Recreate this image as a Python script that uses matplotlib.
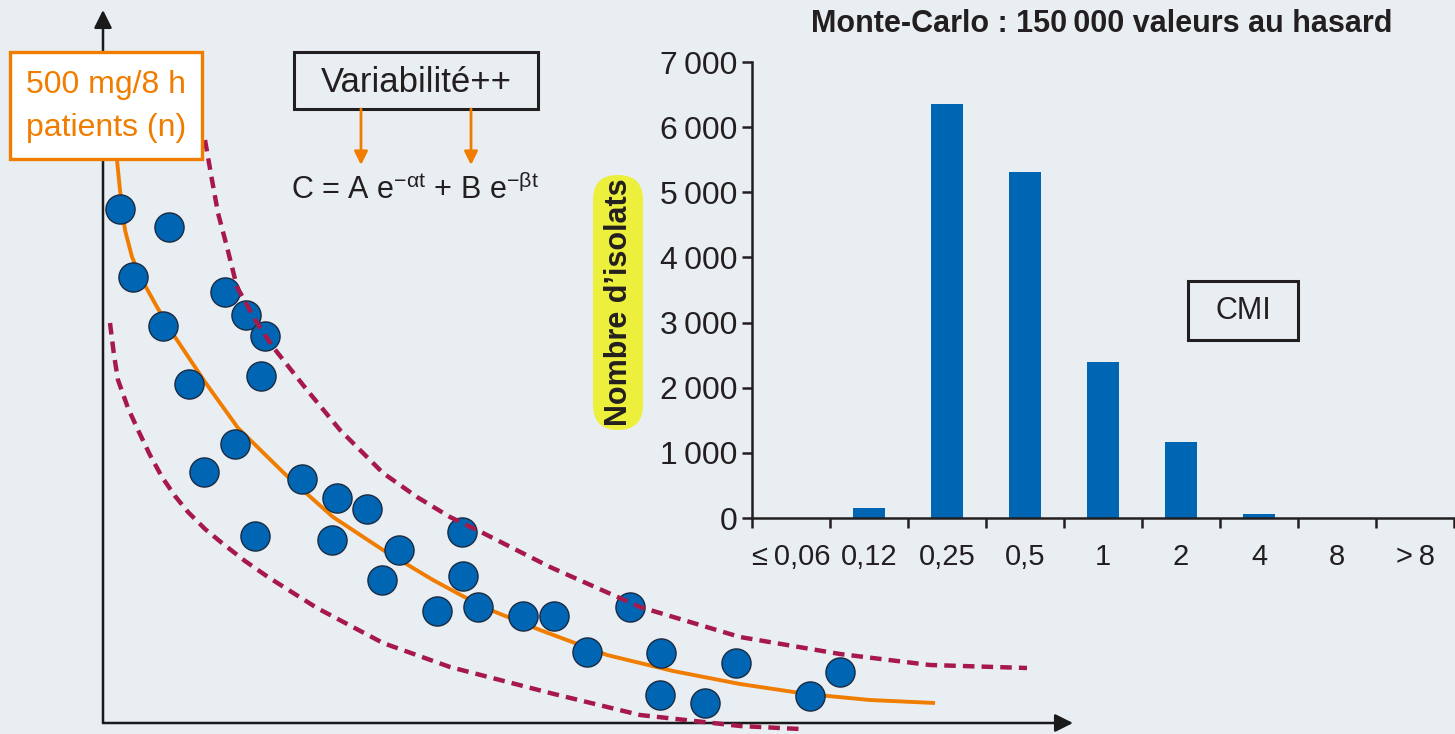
import matplotlib
matplotlib.use("Agg")
import matplotlib.pyplot as plt
from matplotlib.patches import Rectangle, FancyBboxPatch, FancyArrowPatch

# ---------------- data ----------------
# left panel: concentration vs time (arbitrary units)
patient_time = [17, 66, 30, 60, 122, 143, 162, 158, 86, 132, 101, 152, 199, 234, 264, 229,
                296, 279, 359, 360, 334, 375, 420, 451, 527, 484, 558, 633, 737, 557, 602, 707]
patient_conc = [514, 496, 446, 397, 431, 408, 387, 347, 339, 279, 251, 187, 244, 225, 214, 183,
                173, 143, 191, 147, 112, 116, 107, 107, 116, 71, 70, 60, 51, 28, 20, 27]

model_time = [14, 17, 22, 29, 39, 54, 72, 102, 135, 185, 230, 280, 330, 380, 437, 504,
              570, 637, 704, 767, 832]
model_conc = [563, 533, 493, 466, 443, 416, 386, 341, 295, 246, 206, 173, 143, 116, 93, 68,
              52, 39, 29, 23, 20]

upper_time = [102, 109, 115, 124, 134, 154, 170, 204, 237, 280, 314, 347, 380, 447, 537,
              637, 737, 827, 924]
upper_conc = [583, 543, 510, 476, 436, 400, 376, 333, 293, 250, 226, 206, 190, 156, 116,
              86, 69, 58, 55]

lower_time = [7, 11, 15, 25, 35, 47, 59, 72, 85, 102, 119, 142, 165, 214, 280, 347, 447,
              537, 637, 697]
lower_conc = [400, 368, 343, 315, 293, 268, 246, 227, 211, 194, 180, 162, 146, 115, 80, 56,
              30, 8, -3, -6]

# right panel: Monte-Carlo MIC distribution
cmi_labels = ["\u2264\u20090,06", "0,12", "0,25", "0,5", "1", "2", "4", "8", ">\u20098"]
isolates = [0, 160, 6350, 5310, 2400, 1170, 60, 0, 0]
ytick_values = [0, 1000, 2000, 3000, 4000, 5000, 6000, 7000]
ytick_labels = ["0", "1\u2009000", "2\u2009000", "3\u2009000", "4\u2009000", "5\u2009000",
                "6\u2009000", "7\u2009000"]

# ---------------- style ----------------
W, H = 1455, 734
BG = "#E9EEF3"
BLUE = "#0066B3"
ORANGE = "#F07D00"
CRIMSON = "#A6194A"
INK = "#231F20"
YELLOW = "#ECEF3B"
FONT = ["Liberation Sans", "DejaVu Sans"]

plt.rcParams["font.family"] = FONT
plt.rcParams["mathtext.fontset"] = "custom"
plt.rcParams["mathtext.rm"] = "Liberation Sans"
plt.rcParams["mathtext.it"] = "Liberation Sans"

fig = plt.figure(figsize=(W / 100, H / 100), dpi=100, facecolor=BG)


def fbox(x0, y0, x1, y1):
    """pixel box (top-left origin) -> figure fraction rect"""
    return [x0 / W, 1 - y1 / H, (x1 - x0) / W, (y1 - y0) / H]


# ---------------- left panel ----------------
axl = fig.add_axes(fbox(103, 10, 1073, 723))
axl.set_xlim(0, 970)
axl.set_ylim(0, 713)
axl.axis("off")
axl.patch.set_alpha(0)

for xy in [(0, 1), (1, 0)]:
    axl.annotate("", xy=xy, xytext=(0, 0), xycoords="axes fraction",
                 arrowprops=dict(arrowstyle="-|>", lw=1.8, color="#1a1a1a",
                                 mutation_scale=27, shrinkA=0, shrinkB=0))

axl.plot(model_time, model_conc, color=ORANGE, lw=2.8, zorder=2,
         solid_capstyle="butt", solid_joinstyle="round", clip_on=False)
axl.scatter(patient_time, patient_conc, s=440, color=BLUE, edgecolor="#1B2A41",
            linewidth=1.0, zorder=3, clip_on=False)
for tt, cc in [(upper_time, upper_conc), (lower_time, lower_conc)]:
    axl.plot(tt, cc, color=CRIMSON, lw=3.2, linestyle=(0, (2.6, 1.6)),
             zorder=4, clip_on=False, dash_capstyle="butt", dash_joinstyle="round")

# ---------------- right panel (bars) ----------------
axb = fig.add_axes(fbox(752, 62, 1454, 518))
axb.patch.set_alpha(0)
xpos = list(range(len(cmi_labels)))
axb.bar(xpos, isolates, width=0.42, color=BLUE, zorder=2)
axb.set_xlim(-0.5, len(cmi_labels) - 0.5)
axb.set_ylim(0, 7000)
for side in ["top", "right"]:
    axb.spines[side].set_visible(False)
for side in ["left", "bottom"]:
    axb.spines[side].set_linewidth(1.8)
    axb.spines[side].set_color(INK)
    axb.spines[side].set_capstyle("projecting")
axb.set_yticks(ytick_values)
axb.set_yticklabels(ytick_labels)
axb.set_xticks(xpos)
axb.set_xticklabels(cmi_labels)
axb.set_xticks([p - 0.5 for p in xpos] + [len(cmi_labels) - 0.5], minor=True)
axb.tick_params(axis="x", which="major", length=0, pad=18, labelsize=21, labelcolor=INK)
axb.tick_params(axis="x", which="minor", length=7.5, width=1.8, color=INK, direction="out")
axb.tick_params(axis="y", length=7.5, width=1.8, color=INK, pad=3, labelsize=23,
                labelcolor=INK, direction="out")

# ---------------- overlay annotations (pixel space) ----------------
ov = fig.add_axes([0, 0, 1, 1], zorder=5)
ov.set_xlim(0, W)
ov.set_ylim(H, 0)
ov.axis("off")
ov.patch.set_alpha(0)

# orange dosage box
ov.add_patch(Rectangle((10, 52), 192, 107, facecolor="white", edgecolor=ORANGE, lw=2.4))
ov.text(106, 85, "500 mg/8 h", color=ORANGE, fontsize=23, ha="center", va="center")
ov.text(106, 128, "patients (n)", color=ORANGE, fontsize=23, ha="center", va="center")

# variability box
ov.add_patch(Rectangle((294, 52), 244, 57, facecolor="none", edgecolor=INK, lw=2.2))
ov.text(416, 82, "Variabilit\u00e9++", color=INK, fontsize=25, ha="center", va="center")
for ax_x in (361, 471):
    ov.add_patch(FancyArrowPatch((ax_x, 109), (ax_x, 165), arrowstyle="-|>",
                                 mutation_scale=20, lw=2.0, color=ORANGE,
                                 shrinkA=0, shrinkB=0))
eq = "C = A e$^{\\mathregular{\u2212\\alpha t}}$ + B e$^{\\mathregular{\u2212\\beta t}}$"
ov.text(415, 190, eq, color=INK, fontsize=22, ha="center", va="center")

# title
ov.text(1102, 24, "Monte-Carlo : 150\u2009000 valeurs au hasard", color=INK,
        fontsize=22, fontweight="bold", ha="center", va="center")

# y label on yellow pill
ov.add_patch(FancyBboxPatch((593 + 25, 175 + 25), 0, 255 - 50,
                            boxstyle="round,pad=25", facecolor=YELLOW, edgecolor="none"))
ov.text(619, 302, "Nombre d\u2019isolats", color=INK, fontsize=22, fontweight="bold",
        rotation=90, ha="center", va="center")

# CMI box
ov.add_patch(Rectangle((1188, 281), 110, 59, facecolor="none", edgecolor=INK, lw=2.2))
ov.text(1243, 311, "CMI", color=INK, fontsize=22, ha="center", va="center")

fig.savefig("out.png", dpi=100, facecolor=BG)
